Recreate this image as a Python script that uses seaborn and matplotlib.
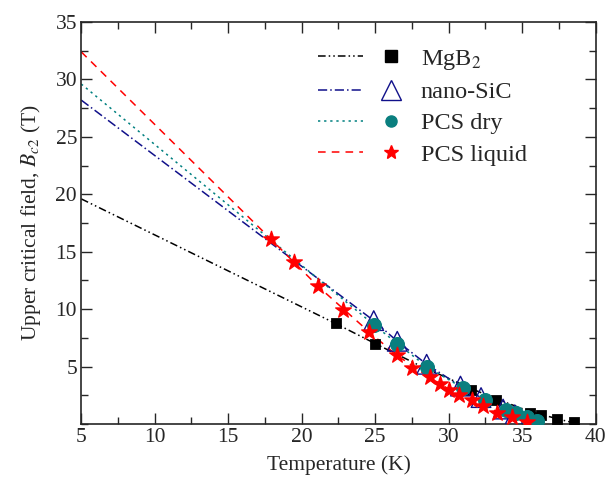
import matplotlib
matplotlib.use("Agg")
import matplotlib.pyplot as plt
from matplotlib.legend_handler import HandlerTuple
from matplotlib.lines import Line2D
from matplotlib.ticker import MultipleLocator
import seaborn as sns

# measured points (T in K, Bc2 in T)
mgb2_T = [22.3, 25.0, 31.5, 33.2, 35.5, 36.3, 37.4, 38.5]
mgb2_B = [8.75, 7.0, 3.0, 2.05, 1.0, 0.75, 0.4, 0.2]
sic_T = [24.9, 26.5, 28.5, 30.8, 32.2, 33.7, 34.5, 35.4]
sic_B = [9.0, 7.2, 5.2, 3.3, 2.3, 1.3, 0.8, 0.3]
dry_T = [24.95, 26.5, 28.5, 31.0, 32.5, 33.9, 34.6, 35.3, 36.0]
dry_B = [8.6, 7.0, 5.0, 3.1, 2.1, 1.2, 0.95, 0.6, 0.3]
liq_T = [17.9, 19.5, 21.1, 22.8, 24.6, 26.45, 27.5, 28.7, 29.4, 30.0,
         30.7, 31.6, 32.3, 33.3, 34.3, 35.3]
liq_B = [16.1, 14.1, 12.0, 9.9, 8.0, 6.0, 4.9, 4.05, 3.5, 3.0,
         2.5, 2.05, 1.6, 1.0, 0.57, 0.2]

# fit curves
mgb2_fit_T = [5.0, 22.3, 25.0, 28.0, 31.5, 33.2, 35.5, 37.4, 38.8]
mgb2_fit_B = [19.6, 8.75, 7.0, 5.1, 3.1, 2.2, 1.1, 0.45, 0.0]
sic_fit_T = [5.0, 24.9, 26.5, 28.5, 30.8, 32.2, 33.7, 35.4, 36.2]
sic_fit_B = [28.2, 9.0, 7.2, 5.2, 3.3, 2.3, 1.3, 0.3, 0.0]
dry_fit_T = [5.0, 24.95, 26.5, 28.5, 31.0, 32.5, 33.9, 35.3, 36.4]
dry_fit_B = [29.6, 8.6, 7.0, 5.0, 3.1, 2.1, 1.2, 0.6, 0.0]
liq_fit_T = [5.0, 17.9, 21.1, 24.6, 26.45, 28.7, 30.7, 32.3, 34.3, 35.8]
liq_fit_B = [32.4, 16.1, 12.0, 8.0, 6.0, 4.05, 2.5, 1.6, 0.57, 0.0]

labels = ["MgB$_2$", "nano-SiC", "PCS dry", "PCS liquid"]

sns.set_style("ticks")
plt.rcParams["font.family"] = ["Liberation Serif", "DejaVu Serif"]
plt.rcParams["mathtext.fontset"] = "stix"

fig = plt.figure(figsize=(6.06, 4.78), dpi=100)
ax = fig.add_axes([0.134, 0.113, 0.849, 0.841])

series = [
    (mgb2_fit_T, mgb2_fit_B, mgb2_T, mgb2_B, "black", (0, (5, 2, 1, 2, 1, 2)),
     dict(marker="s", s=50, color="black", edgecolor="black")),
    (sic_fit_T, sic_fit_B, sic_T, sic_B, "#10108a", (0, (6, 2, 1, 2)),
     dict(marker="^", s=200, facecolor="none", edgecolor="#10108a", linewidth=1.0)),
    (dry_fit_T, dry_fit_B, dry_T, dry_B, "#008080", (0, (1.5, 2.5)),
     dict(marker="o", s=100, color="#0a7f7f", edgecolor="#0a7f7f")),
    (liq_fit_T, liq_fit_B, liq_T, liq_B, "red", (0, (5, 4)),
     dict(marker="*", s=140, color="red", edgecolor="red")),
]

handles = []
for fT, fB, T, B, col, ls, mk in series:
    sns.lineplot(x=fT, y=fB, ax=ax, color=col, linestyle=ls, linewidth=1.1,
                 sort=False, estimator=None)
    sns.scatterplot(x=T, y=B, ax=ax, zorder=3, **mk)
    ln = Line2D([], [], color=col, linestyle=ls, linewidth=1.1)
    if mk["marker"] == "^":
        m = Line2D([], [], linestyle="none", marker="^", markersize=14,
                   markerfacecolor="none", markeredgecolor=col)
    else:
        m = Line2D([], [], linestyle="none", marker=mk["marker"],
                   markersize=8 if mk["marker"] != "*" else 10,
                   color=mk["color"])
    handles.append((ln, m))

ax.set_xlim(5, 40)
ax.set_ylim(0, 35)
ax.xaxis.set_major_locator(MultipleLocator(5))
ax.xaxis.set_minor_locator(MultipleLocator(2.5))
ax.set_yticks([5, 10, 15, 20, 25, 30, 35])
ax.yaxis.set_minor_locator(MultipleLocator(2.5))
ax.tick_params(which="both", direction="in", top=True, right=True,
               labelsize=15.5, width=1.0, pad=3)
ax.tick_params(which="major", length=8)
ax.tick_params(which="minor", length=5)
for sp in ax.spines.values():
    sp.set_linewidth(1.2)

ax.set_xlabel("Temperature (K)", fontsize=15.5, labelpad=6)
ax.set_ylabel("Upper critical field, $B_{c2}$ (T)", fontsize=15.5, labelpad=9)

ax.legend(handles, labels, handler_map={tuple: HandlerTuple(ndivide=2, pad=0.25)},
          handlelength=3.95, frameon=False, fontsize=17.5, loc="upper left",
          bbox_to_anchor=(0.417, 0.99), labelspacing=0.38, handletextpad=0.3)

fig.savefig("out.png", dpi=100)
